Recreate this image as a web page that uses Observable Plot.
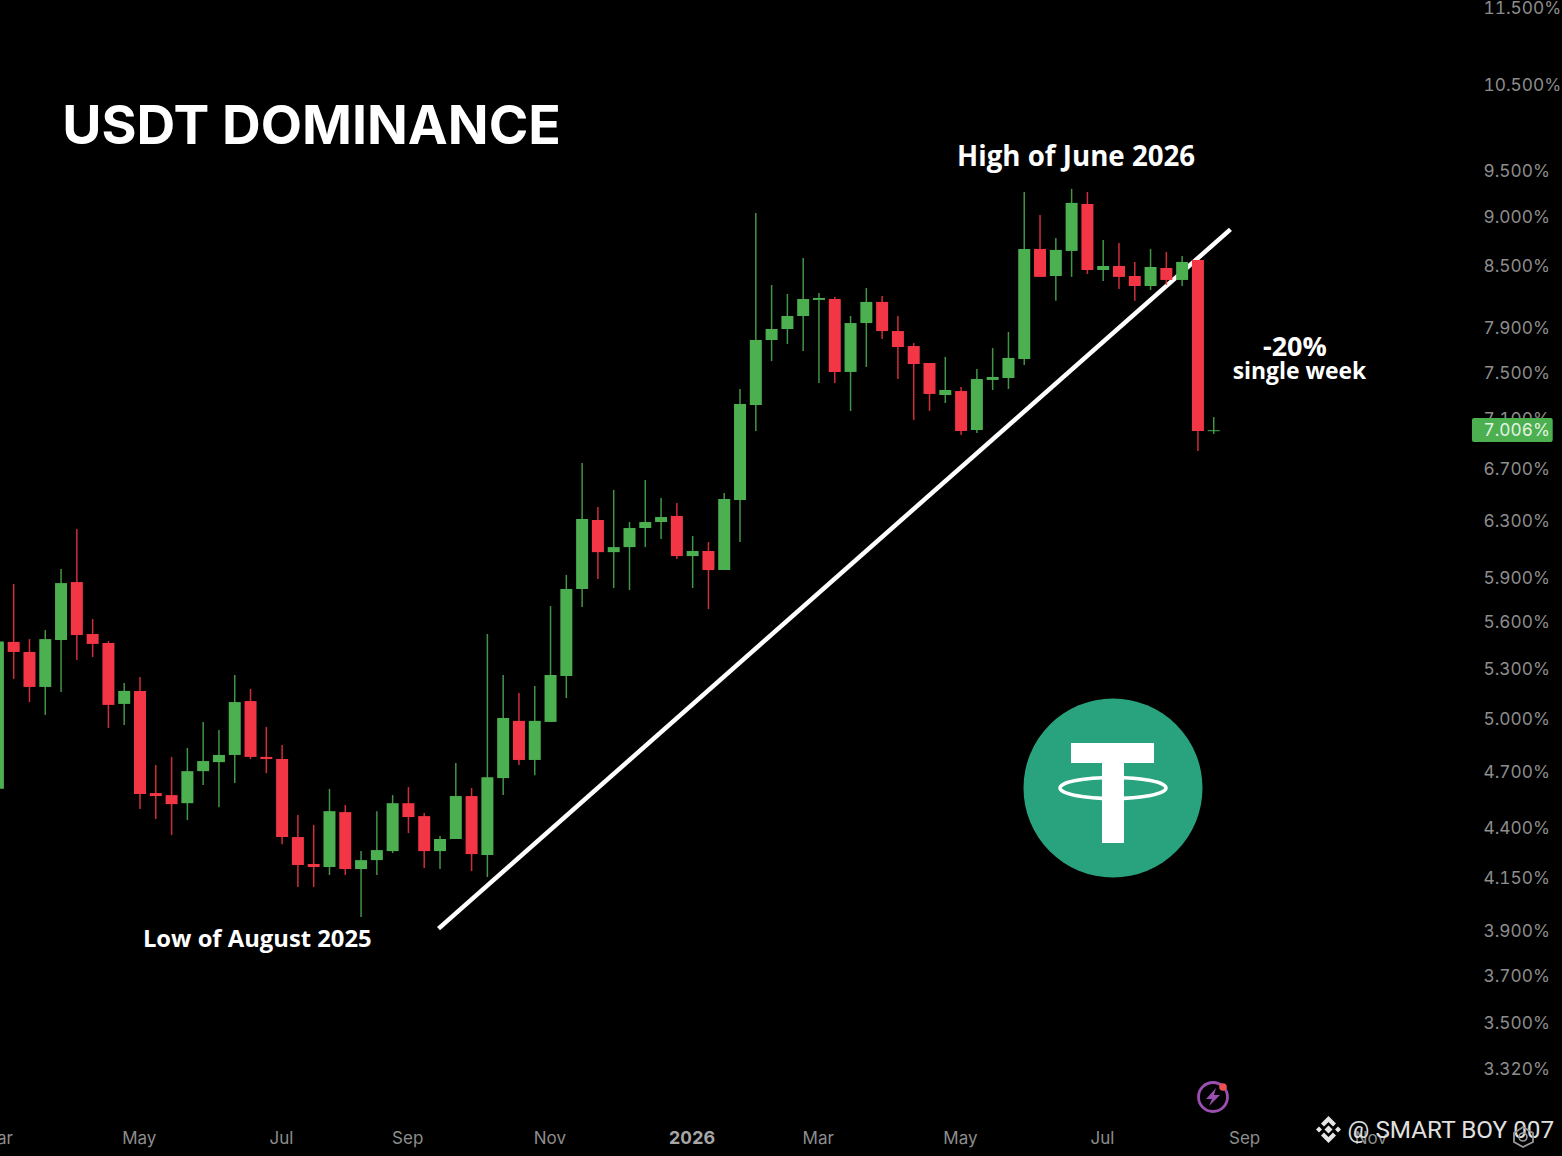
<!DOCTYPE html>
<html>
<head>
<meta charset="utf-8">
<script src="https://cdn.jsdelivr.net/npm/d3@7"></script>
<script src="https://cdn.jsdelivr.net/npm/@observablehq/plot@0.6"></script>
<style>
html,body{margin:0;padding:0;background:#000;}
#wrap{position:relative;width:1562px;height:1156px;overflow:hidden;background:#000;}
#wrap svg{position:absolute;left:0;top:0;display:block;}
</style>
</head>
<body>
<div id="wrap">
</div>
<script>
const firstWeek = "2025-03-03";
const highs = [5.47,5.851,5.486,5.545,5.955,6.241,5.616,5.474,5.211,5.248,4.734,4.779,4.829,4.979,4.932,5.26,5.175,4.95,4.846,4.465,4.413,4.603,4.517,4.28,4.485,4.57,4.613,4.475,4.356,4.745,4.608,5.519,5.26,5.15,5.193,5.702,5.914,6.742,6.404,6.533,6.292,6.61,6.472,6.434,6.19,6.146,6.51,7.353,9.036,8.305,8.218,8.572,8.228,8.19,8.009,8.276,8.199,8.009,7.759,7.58,7.634,7.37,7.527,7.714,7.86,9.261,9.015,8.775,9.294,9.261,8.755,8.724,8.532,8.663,8.632,8.592,8.552,7.115];
const opens = [4.604,5.468,5.404,5.187,5.48,5.865,5.519,5.461,5.085,5.163,4.581,4.57,4.527,4.7,4.75,4.79,5.102,4.779,4.767,4.351,4.216,4.201,4.48,4.191,4.235,4.28,4.527,4.459,4.28,4.341,4.565,4.26,4.662,4.985,4.762,4.979,5.254,5.817,6.307,6.074,6.11,6.248,6.292,6.337,6.046,6.082,5.948,6.457,7.216,7.787,7.888,8.009,8.161,8.17,7.501,7.943,8.142,7.869,7.732,7.58,7.301,7.335,7.008,7.431,7.448,7.616,8.663,8.393,8.643,9.132,8.452,8.492,8.393,8.295,8.472,8.354,8.552,6.998];
const closes = [5.47,5.404,5.187,5.486,5.858,5.512,5.455,5.079,5.163,4.576,4.565,4.522,4.7,4.756,4.79,5.096,4.779,4.767,4.351,4.211,4.201,4.485,4.191,4.235,4.285,4.527,4.454,4.28,4.341,4.565,4.265,4.667,5.002,4.762,4.985,5.26,5.817,6.315,6.074,6.11,6.248,6.292,6.329,6.046,6.082,5.948,6.464,7.225,7.787,7.888,8.009,8.17,8.18,7.501,7.943,8.142,7.869,7.723,7.571,7.31,7.344,7,7.439,7.457,7.625,8.663,8.384,8.653,9.143,8.452,8.492,8.384,8.295,8.482,8.354,8.532,7,7.006];
const lows = [4.604,5.236,5.096,5.02,5.157,5.354,5.372,4.944,4.961,4.496,4.444,4.361,4.439,4.624,4.506,4.635,4.767,4.689,4.315,4.104,4.104,4.162,4.162,3.962,4.162,4.27,4.371,4.196,4.191,4.341,4.181,4.152,4.57,4.734,4.678,4.979,5.12,5.696,5.886,5.824,5.81,6.11,6.168,6.025,5.824,5.682,5.948,6.146,7,7.598,7.75,7.687,7.404,7.404,7.166,7.545,7.796,7.439,7.091,7.166,7.233,6.967,6.984,7.344,7.353,7.562,8.384,8.152,8.384,8.413,8.345,8.266,8.152,8.257,8.305,8.295,6.838,6.976];

const priceTicks = [11.5,10.5,9.5,9,8.5,7.9,7.5,7.1,6.7,6.3,5.9,5.6,5.3,5,4.7,4.4,4.15,3.9,3.7,3.5,3.32];
const monthTicks = ["2025-03-03","2025-05-05","2025-07-07","2025-09-01","2025-11-03","2026-03-02","2026-05-04","2026-07-06","2026-09-07","2026-11-02"];
const monthLabels = ["Mar","May","Jul","Sep","Nov","Mar","May","Jul","Sep","Nov"];
const yearTick = "2026-01-05";
const lastPrice = 7.006;

const trendDates = ["2025-09-14T08:00Z","2026-08-31T10:00Z"];
const trendValues = [3.911,8.869];

const upColor = "#4CAF50", downColor = "#F23645";
const font = "'Open Sans'";

const weekStart = new Date(firstWeek);
const candles = highs.map((h,i)=>({
  date:d3.utcDay.offset(weekStart,7*i),
  high:h,open:opens[i],close:closes[i],low:lows[i],
  dir:closes[i]>=opens[i]?"up":"down"
}));
const trend = trendDates.map((d,i)=>({date:new Date(d),value:trendValues[i]}));
const months = monthTicks.map(d=>new Date(d));

function note(text,date,value,size,extra){
  return Plot.text([text],{x:()=>new Date(date),y:()=>value,text:d=>d,fill:"#fff",fontSize:size,fontWeight:700,fontFamily:font,...extra});
}

const chart = Plot.plot({
  width:1562,height:1156,
  marginLeft:0,marginRight:78,marginTop:0,marginBottom:30,
  style:{background:"#000",overflow:"hidden"},
  x:{type:"utc",domain:[new Date("2025-03-04T03:43Z"),new Date("2026-12-22T01:00Z")]},
  y:{type:"log",domain:[3.102,11.595]},
  color:{domain:["up","down"],range:[upColor,downColor]},
  marks:[
    Plot.axisY(priceTicks,{anchor:"right",tickSize:0,tickPadding:0,dx:-1,dy:0.5,fontSize:17.3,fontFamily:"Inter",color:"#8d8d8d",
      tickFormat:d=>d.toFixed(3)+"%",label:null}),
    Plot.axisX(months,{anchor:"bottom",tickSize:0,tickPadding:5,dx:-0.7,fontSize:17,fontFamily:"Inter",color:"#8d8d8d",
      tickFormat:d=>monthLabels[months.findIndex(m=>+m===+d)],label:null}),
    Plot.axisX([new Date(yearTick)],{anchor:"bottom",tickSize:0,tickPadding:5,dx:-0.7,fontSize:18,fontWeight:700,fontFamily:"Inter",color:"#a6a6a6",
      tickFormat:()=>"2026",label:null}),
    Plot.line(trend,{x:"date",y:"value",stroke:"#fff",strokeWidth:4.5,strokeLinecap:"butt"}),
    Plot.ruleX(candles,{x:"date",y1:"low",y2:"high",stroke:"dir",strokeWidth:1.5,strokeOpacity:.85}),
    Plot.ruleX(candles,{x:"date",y1:"open",y2:"close",stroke:"dir",strokeWidth:12}),
    Plot.rect([{v:lastPrice}],{x1:()=>new Date("2026-12-16T17:00Z"),x2:()=>new Date("2027-01-21T12:00Z"),
      y1:()=>6.91,y2:()=>7.107,fill:upColor,rx:2}),
    Plot.text([lastPrice],{x:()=>new Date("2026-12-22T01:00Z"),y:d=>d,text:d=>d.toFixed(3)+"%",textAnchor:"start",dx:-1,
      fill:"#e4f3e4",fontSize:17.3,fontFamily:"Inter",fontVariant:"tabular-nums"}),
    note("USDT DOMINANCE","2025-03-31T12:00Z",10.0,53.6,{textAnchor:"start",fontFamily:"Inter"}),
    note("High of June 2026","2026-06-24",9.65,27.7),
    note("Low of August 2025","2025-06-26",3.861,23.8),
    note("-20%","2026-09-29",7.723,27),
    note("single week","2026-10-01",7.51,22.9),
    Plot.text(["@ SMART BOY 007"],{x:()=>new Date("2026-10-22T08:00Z"),y:()=>3.089,text:d=>d,textAnchor:"start",
      fill:"#e0e0e0",fontSize:24.3,fontFamily:"Roboto"})
  ]
});
document.getElementById("wrap").appendChild(chart);

const overlay = `
<svg width="1562" height="1156" viewBox="0 0 1562 1156" xmlns="http://www.w3.org/2000/svg">
  <circle cx="1113" cy="788" r="89.5" fill="#29A37E"/>
  <ellipse cx="1113" cy="788" rx="53" ry="10.5" fill="none" stroke="#fff" stroke-width="3.5"/>
  <path d="M1071 743H1154V763H1124V843H1102V763H1071Z" fill="#fff"/>
  <circle cx="1213" cy="1097" r="14.5" fill="none" stroke="#9B4FB0" stroke-width="2.8"/>
  <path d="M1216 1088L1206 1099H1212L1209 1106L1220 1095H1214Z" fill="#9B4FB0"/>
  <circle cx="1223" cy="1087" r="3.8" fill="#EE5050"/>
  <g fill="#e6e6e6">
    <path d="M1328.5 1116L1336 1123.5L1333 1126.5L1328.5 1122L1324 1126.5L1321 1123.5Z"/>
    <path d="M1328.5 1143L1321 1135.5L1324 1132.5L1328.5 1137L1333 1132.5L1336 1135.5Z"/>
    <path d="M1328.5 1125.5L1332.5 1129.5L1328.5 1133.5L1324.5 1129.5Z"/>
    <path d="M1319 1126.5L1322 1129.5L1319 1132.5L1316 1129.5Z"/>
    <path d="M1338 1126.5L1341 1129.5L1338 1132.5L1335 1129.5Z"/>
  </g>
  <path d="M1523 1127L1533 1133L1533 1142L1523 1147L1514 1142L1514 1133Z" fill="none" stroke="#9a9a9a" stroke-width="1.8"/>
  <circle cx="1523" cy="1137" r="4" fill="none" stroke="#9a9a9a" stroke-width="1.6"/>
</svg>`;
document.getElementById("wrap").insertAdjacentHTML("beforeend",overlay);
</script>
</body>
</html>
